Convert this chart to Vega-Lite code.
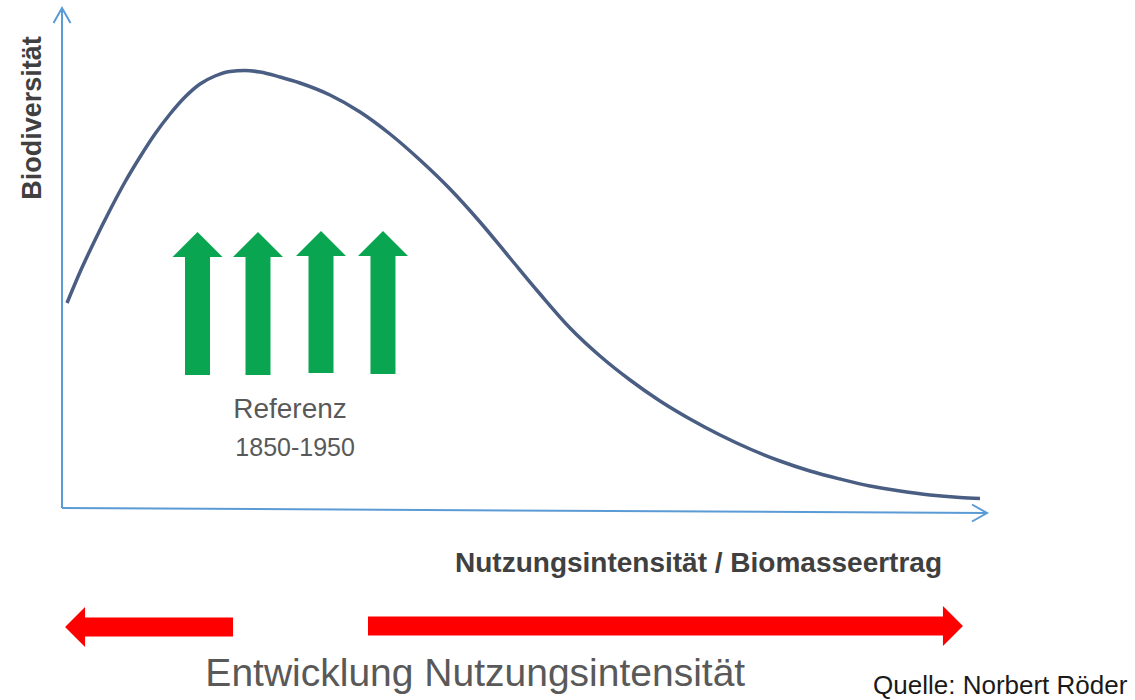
{
  "$schema": "https://vega.github.io/schema/vega-lite/v6.json",
  "width": 1135,
  "height": 700,
  "padding": 0,
  "autosize": {"type": "fit", "contains": "padding"},
  "background": "white",
  "config": {"view": {"stroke": null}},
  "datasets": {
    "curve": [
      {"x": 0.54, "y": 41.0}, {"x": 1.95, "y": 47.2}, {"x": 3.57, "y": 53.6}, {"x": 5.19, "y": 59.6},
      {"x": 6.81, "y": 65.2}, {"x": 8.43, "y": 70.2}, {"x": 10.05, "y": 74.8}, {"x": 11.68, "y": 78.8},
      {"x": 13.3, "y": 82.2}, {"x": 14.92, "y": 84.8}, {"x": 16.54, "y": 86.4}, {"x": 18.16, "y": 87.3},
      {"x": 19.78, "y": 87.5}, {"x": 21.41, "y": 87.2}, {"x": 23.57, "y": 86.2}, {"x": 25.73, "y": 85.0},
      {"x": 28.97, "y": 82.6}, {"x": 32.22, "y": 79.2}, {"x": 35.46, "y": 74.8}, {"x": 38.7, "y": 69.6},
      {"x": 41.95, "y": 63.8}, {"x": 45.19, "y": 57.2}, {"x": 48.43, "y": 50.0}, {"x": 51.68, "y": 42.8},
      {"x": 54.92, "y": 36.0}, {"x": 58.16, "y": 30.4}, {"x": 61.41, "y": 25.6}, {"x": 64.65, "y": 21.4},
      {"x": 67.89, "y": 17.8}, {"x": 71.14, "y": 14.6}, {"x": 74.38, "y": 11.8}, {"x": 77.62, "y": 9.4},
      {"x": 80.86, "y": 7.4}, {"x": 84.11, "y": 5.8}, {"x": 87.35, "y": 4.4}, {"x": 90.59, "y": 3.4},
      {"x": 93.84, "y": 2.6}, {"x": 97.08, "y": 2.1}, {"x": 99.24, "y": 1.9}
    ],
    "axes": [
      {"x": 0, "y": 0, "x2": 0, "y2": 100},
      {"x": 0, "y": 0, "x2": 100, "y2": -1}
    ],
    "axisHeads": [
      {"x": 0, "y": 100, "dir": "up"},
      {"x": 100, "y": -1, "dir": "right"}
    ],
    "green": [
      {"x": 14.65, "y": 26.6, "y2": 50.6, "tip": 52.7},
      {"x": 21.19, "y": 26.6, "y2": 50.6, "tip": 52.7},
      {"x": 28.0, "y": 27.0, "y2": 50.6, "tip": 52.9},
      {"x": 34.7, "y": 26.8, "y2": 50.6, "tip": 52.9}
    ],
    "red": [
      {"x": 2.38, "x2": 18.49, "y": -23.8, "hx": 1.41, "dir": "left"},
      {"x": 33.08, "x2": 95.35, "y": -23.6, "hx": 96.32, "dir": "right"}
    ],
    "ylabel": [{"x": -3.14, "y": 78.0, "label": "Biodiversität"}],
    "xlabel": [{"x": 42.49, "y": -12.8, "label": "Nutzungsintensität / Biomasseertrag"}],
    "ref1": [{"x": 24.65, "y": 18.0, "label": "Referenz"}],
    "ref2": [{"x": 25.2, "y": 10.4, "label": "1850-1950"}],
    "dev": [{"x": 15.5, "y": -35.6, "label": "Entwicklung Nutzungsintensität"}],
    "src": [{"x": 87.68, "y": -37.2, "label": "Quelle: Norbert Röder"}]
  },
  "encoding": {
    "x": {"field": "x", "type": "quantitative", "scale": {"domain": [-6.7027, 116], "nice": false, "zero": false}, "axis": null},
    "y": {"field": "y", "type": "quantitative", "scale": {"domain": [-38.4, 101.6], "nice": false, "zero": false}, "axis": null}
  },
  "resolve": {"scale": {"shape": "independent"}},
  "layer": [
    {
      "data": {"name": "axes"},
      "mark": {"type": "rule", "stroke": "#5b9bd5", "strokeWidth": 2},
      "encoding": {"x2": {"field": "x2"}, "y2": {"field": "y2"}}
    },
    {
      "data": {"name": "axisHeads"},
      "mark": {"type": "point", "filled": false, "stroke": "#5b9bd5", "strokeWidth": 2, "size": 400, "opacity": 1},
      "encoding": {
        "shape": {"field": "dir", "type": "nominal", "scale": {"domain": ["up", "right"], "range": ["M-0.85,1.5L0,0L0.85,1.5", "M-1.5,-0.85L0,0L-1.5,0.85"]}, "legend": null}
      }
    },
    {
      "data": {"name": "curve"},
      "mark": {"type": "line", "stroke": "#4a5d82", "strokeWidth": 3.5, "interpolate": "monotone"},
      "encoding": {}
    },
    {
      "data": {"name": "green"},
      "mark": {"type": "rule", "stroke": "#0aa550", "strokeWidth": 25},
      "encoding": {"y2": {"field": "y2"}}
    },
    {
      "data": {"name": "green"},
      "mark": {"type": "point", "shape": "M-1,0.5L0,-0.5L1,0.5Z", "filled": true, "fill": "#0aa550", "size": 2500, "opacity": 1, "strokeWidth": 0},
      "encoding": {"y": {"field": "tip", "type": "quantitative"}}
    },
    {
      "data": {"name": "red"},
      "mark": {"type": "rule", "stroke": "#ff0000", "strokeWidth": 19},
      "encoding": {"x2": {"field": "x2"}}
    },
    {
      "data": {"name": "red"},
      "transform": [{"filter": "datum.dir === 'left'"}],
      "mark": {"type": "point", "shape": "M0.5,-1L-0.5,0L0.5,1Z", "filled": true, "fill": "#ff0000", "size": 1600, "opacity": 1, "strokeWidth": 0},
      "encoding": {"x": {"field": "hx", "type": "quantitative"}}
    },
    {
      "data": {"name": "red"},
      "transform": [{"filter": "datum.dir === 'right'"}],
      "mark": {"type": "point", "shape": "M-0.5,-1L0.5,0L-0.5,1Z", "filled": true, "fill": "#ff0000", "size": 1600, "opacity": 1, "strokeWidth": 0},
      "encoding": {"x": {"field": "hx", "type": "quantitative"}}
    },
    {
      "data": {"name": "ylabel"},
      "mark": {"type": "text", "font": "Liberation Sans", "fontWeight": "bold", "fontSize": 27, "angle": 270, "align": "center", "baseline": "middle", "fill": "#404040"},
      "encoding": {"text": {"field": "label"}}
    },
    {
      "data": {"name": "xlabel"},
      "mark": {"type": "text", "font": "Liberation Sans", "fontWeight": "bold", "fontSize": 28, "align": "left", "baseline": "alphabetic", "fill": "#404040"},
      "encoding": {"text": {"field": "label"}}
    },
    {
      "data": {"name": "ref1"},
      "mark": {"type": "text", "font": "Liberation Sans", "fontSize": 28, "align": "center", "baseline": "alphabetic", "fill": "#595959"},
      "encoding": {"text": {"field": "label"}}
    },
    {
      "data": {"name": "ref2"},
      "mark": {"type": "text", "font": "Liberation Sans", "fontSize": 25, "align": "center", "baseline": "alphabetic", "fill": "#595959"},
      "encoding": {"text": {"field": "label"}}
    },
    {
      "data": {"name": "dev"},
      "mark": {"type": "text", "font": "Liberation Sans", "fontSize": 39, "align": "left", "baseline": "alphabetic", "fill": "#595959"},
      "encoding": {"text": {"field": "label"}}
    },
    {
      "data": {"name": "src"},
      "mark": {"type": "text", "font": "Liberation Sans", "fontSize": 26, "align": "left", "baseline": "alphabetic", "fill": "#1a1a1a"},
      "encoding": {"text": {"field": "label"}}
    }
  ]
}
